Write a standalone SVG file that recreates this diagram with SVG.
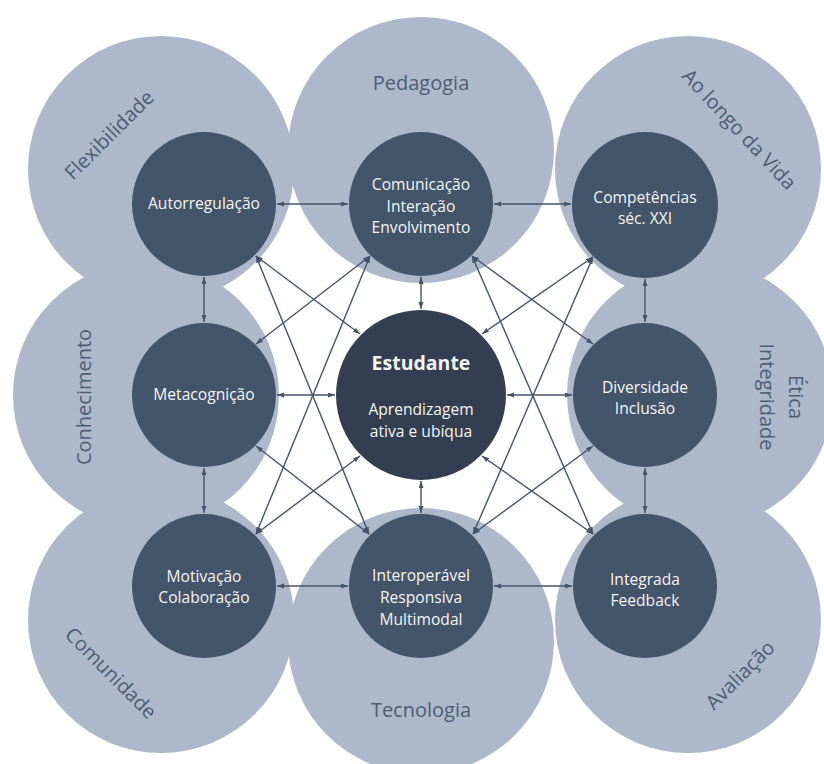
<svg xmlns="http://www.w3.org/2000/svg" width="824" height="764" viewBox="0 0 824 764">
<defs>
<style>
.area{fill:#adb9ca}
.alabel{font-family:"Open Sans","Noto Sans",sans-serif;font-size:20px;fill:#4e5c74;text-anchor:middle}
.node{fill:#44546a}
.core{fill:#333f50}
.ntext{font-family:"Open Sans","Noto Sans",sans-serif;font-size:15.6px;fill:#f4f4f4;text-anchor:middle}
.ctitle{font-family:"Open Sans","Noto Sans",sans-serif;font-size:19.5px;font-weight:bold;fill:#f4f4f4;text-anchor:middle}
.conn line{stroke:#44546a;stroke-width:1.4;marker-start:url(#ah);marker-end:url(#ah)}
</style>
<marker id="ah" markerUnits="userSpaceOnUse" markerWidth="8" markerHeight="6" refX="7" refY="2.5" orient="auto-start-reverse">
<path d="M0,0 L7,2.5 L0,5 z" fill="#44546a"/>
</marker>
</defs>
<rect width="824" height="764" fill="#ffffff"/>

<g id="area-flexibilidade"><circle class="area" cx="161" cy="169" r="133"/><text class="alabel" transform="translate(114,140) rotate(-45)">Flexibilidade</text></g>
<g id="area-pedagogia"><circle class="area" cx="421" cy="150" r="133"/><text class="alabel" x="421" y="90">Pedagogia</text></g>
<g id="area-ao-longo"><circle class="area" cx="688" cy="169" r="133"/><text class="alabel" transform="translate(734,134) rotate(47)">Ao longo da Vida</text></g>
<g id="area-conhecimento"><circle class="area" cx="146" cy="395" r="133"/><text class="alabel" transform="translate(91,397) rotate(-90)">Conhecimento</text></g>
<g id="area-etica"><circle class="area" cx="700" cy="395" r="133"/><text class="alabel" transform="translate(789,397) rotate(90)">Ética</text><text class="alabel" transform="translate(760,397) rotate(90)">Integridade</text></g>
<g id="area-comunidade"><circle class="area" cx="161" cy="620" r="133"/><text class="alabel" transform="translate(106,678) rotate(45)">Comunidade</text></g>
<g id="area-tecnologia"><circle class="area" cx="421" cy="641" r="133"/><text class="alabel" x="421" y="717">Tecnologia</text></g>
<g id="area-avaliacao"><circle class="area" cx="688" cy="620" r="133"/><text class="alabel" transform="translate(745,680) rotate(-45)">Avaliação</text></g>

<g id="n-autorregulacao"><circle class="node" cx="204" cy="204" r="72"/><text class="ntext" x="204" y="209">Autorregulação</text></g>
<g id="n-comunicacao"><circle class="node" cx="421" cy="204" r="72"/><text class="ntext" x="421" y="190">Comunicação</text><text class="ntext" x="421" y="212">Interação</text><text class="ntext" x="421" y="233">Envolvimento</text></g>
<g id="n-competencias"><circle class="node" cx="645" cy="205" r="73"/><text class="ntext" x="645" y="203">Competências</text><text class="ntext" x="645" y="224">séc. XXI</text></g>
<g id="n-metacognicao"><circle class="node" cx="204" cy="395" r="72"/><text class="ntext" x="204" y="400">Metacognição</text></g>
<g id="n-estudante"><circle class="core" cx="421" cy="395" r="85"/><text class="ctitle" x="421" y="370">Estudante</text><text class="ntext" x="421" y="415">Aprendizagem</text><text class="ntext" x="421" y="437">ativa e ubíqua</text></g>
<g id="n-diversidade"><circle class="node" cx="645" cy="395" r="72"/><text class="ntext" x="645" y="393">Diversidade</text><text class="ntext" x="645" y="414">Inclusão</text></g>
<g id="n-motivacao"><circle class="node" cx="204" cy="586" r="72"/><text class="ntext" x="204" y="582">Motivação</text><text class="ntext" x="204" y="603">Colaboração</text></g>
<g id="n-interoperavel"><circle class="node" cx="421" cy="586" r="72"/><text class="ntext" x="421" y="581">Interoperável</text><text class="ntext" x="421" y="603">Responsiva</text><text class="ntext" x="421" y="625">Multimodal</text></g>
<g id="n-integrada"><circle class="node" cx="645" cy="586" r="72"/><text class="ntext" x="645" y="585">Integrada</text><text class="ntext" x="645" y="606">Feedback</text></g>

<g id="connectors" class="conn">
<line x1="277" y1="204" x2="348" y2="204"/>
<line x1="494" y1="204" x2="571" y2="204"/>
<line x1="277" y1="395" x2="335" y2="395"/>
<line x1="507" y1="395" x2="572" y2="395"/>
<line x1="277" y1="586" x2="348" y2="586"/>
<line x1="494" y1="586" x2="572" y2="586"/>
<line x1="204" y1="277" x2="204" y2="322"/>
<line x1="204" y1="468" x2="204" y2="513"/>
<line x1="421" y1="277" x2="421" y2="309"/>
<line x1="421" y1="481" x2="421" y2="513"/>
<line x1="645" y1="279" x2="645" y2="322"/>
<line x1="645" y1="468" x2="645" y2="513"/>
<line x1="256" y1="256" x2="360" y2="334"/>
<line x1="256" y1="256" x2="369" y2="534"/>
<line x1="370" y1="256" x2="256" y2="344"/>
<line x1="370" y1="256" x2="256" y2="534"/>
<line x1="472" y1="256" x2="593" y2="344"/>
<line x1="472" y1="256" x2="593" y2="534"/>
<line x1="593" y1="257" x2="482" y2="334"/>
<line x1="593" y1="257" x2="473" y2="534"/>
<line x1="256" y1="446" x2="369" y2="534"/>
<line x1="256" y1="534" x2="360" y2="456"/>
<line x1="593" y1="446" x2="473" y2="534"/>
<line x1="593" y1="534" x2="482" y2="456"/>
</g>
</svg>
